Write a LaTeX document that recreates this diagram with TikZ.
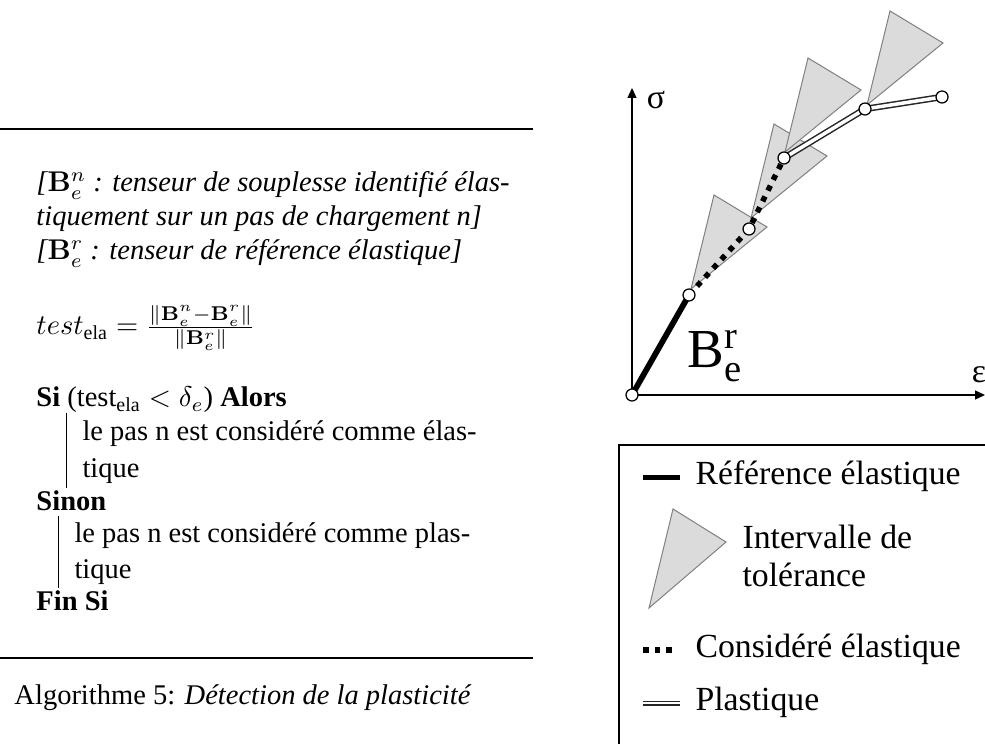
\RequirePackage{fix-cm}
\documentclass[tikz,border=0pt]{standalone}
\usepackage{amsmath,amssymb}
\usepackage[no-math]{fontspec}
\setmainfont{Liberation Serif}
\usetikzlibrary{arrows.meta}

\begin{document}
\begin{tikzpicture}[x=0.4pt,y=-0.4pt,
    txt/.style={anchor=base west,inner sep=0pt,font=\fontsize{11.4}{13}\selectfont},
    ital/.style={txt,font=\fontsize{11.4}{13}\selectfont\itshape},
    leg/.style={anchor=base west,inner sep=0pt,font=\fontsize{13.5}{16}\selectfont},
    lab/.style={inner sep=0pt,font=\fontsize{13.5}{16}\selectfont},
    rule/.style={line width=0.5pt},
    axe/.style={line width=0.5pt,-{Triangle[length=4pt,width=3.6pt]}},
    tol/.style={fill=black!14,draw=black!50,line width=0.4pt},
    refel/.style={line width=2.3pt},
    consel/.style={line width=2.2pt,dash pattern=on 2.2pt off 2.6pt},
    plast/.style={draw=black!85,line width=0.6pt,double=white,double distance=1.4pt},
    pt/.style={circle,draw,fill=white,line width=0.5pt,minimum size=4.8pt,inner sep=0pt}]

\useasboundingbox (0,0) rectangle (985,744);

% algorithme
\draw[rule] (0,129) -- (533,129);
\node[ital] (h1) at (36,192) {[$\mathbf{B}_e^n$ : tenseur de souplesse identifié élas-};
\node[ital] (h2) at (36,226) {tiquement sur un pas de chargement n]};
\node[ital] (h3) at (36,260) {[$\mathbf{B}_e^r$ : tenseur de référence élastique]};
\node[txt] (test) at (36,335) {$test_{\text{ela}} = \frac{\|\mathbf{B}_e^n-\mathbf{B}_e^r\|}{\|\mathbf{B}_e^r\|}$};
\node[txt] (si) at (36,407) {\textbf{Si} (test$_{\text{ela}} < \delta_e$) \textbf{Alors}};
\draw[line width=0.4pt] (66,413) -- (66,488);
\node[txt] (b1a) at (82,441) {le pas n est considéré comme élas-};
\node[txt] (b1b) at (82,478) {tique};
\node[txt] (sinon) at (36,511) {\textbf{Sinon}};
\draw[line width=0.4pt] (58,516) -- (58,588);
\node[txt] (b2a) at (74,543) {le pas n est considéré comme plas-};
\node[txt] (b2b) at (74,578) {tique};
\node[txt] (finsi) at (36,610) {\textbf{Fin Si}};
\draw[rule] (0,658) -- (533,658);
\node[txt] (cap) at (14,704) {Algorithme 5: \textit{Détection de la plasticité}};

% courbe
\coordinate (pO) at (632,395);
\coordinate (p1) at (689,295);
\coordinate (p2) at (749,229);
\coordinate (p3) at (784,158);
\coordinate (p4) at (865,109);
\coordinate (p5) at (942,97);
\coordinate (ytop) at (632,88);
\coordinate (xend) at (985,395);

\foreach \ax/\ay in {691/289,751/218,785/152,867/105}
  \filldraw[tol] (\ax,\ay) -- ++(23,-94) -- ++(53,32) -- cycle;

\draw[axe] (pO) -- (ytop);
\draw[axe] (pO) -- (xend);
\node[lab] (sig) at (656,100) {σ};
\node[lab] (eps) at (979,375) {ε};
\node[anchor=base west,inner sep=0pt,font=\fontsize{22}{24}\selectfont] (Bre) at (687,368) {B$^{\text{r}}_{\text{e}}$};

\draw[refel] (pO) -- (p1);
\draw[consel] (p1) -- (p2) -- (p3);
\draw[plast] (p3) -- (p4) -- (p5);
\foreach \p in {pO,p1,p2,p3,p4,p5}
  \node[pt] (n\p) at (\p) {};

% legende
\draw[rule] (985,445) -- (619,445) -- (619,744);
\draw[line width=2pt] (643,478) -- (680,478);
\node[leg] (lref) at (695,485) {Référence élastique};
\filldraw[tol] (673,509) -- (726,542) -- (649,608) -- cycle;
\node[leg] (ltol1) at (742,548) {Intervalle de};
\node[leg] (ltol2) at (742,587) {tolérance};
\draw[line width=2.3pt,dash pattern=on 2.3pt off 2.3pt] (643,650) -- (673,650);
\node[leg] (lcons) at (695,657) {Considéré élastique};
\draw[draw=black!85,line width=0.5pt,double=white,double distance=1pt] (643,703) -- (680,703);
\node[leg] (lplas) at (695,710) {Plastique};
\end{tikzpicture}
\end{document}
